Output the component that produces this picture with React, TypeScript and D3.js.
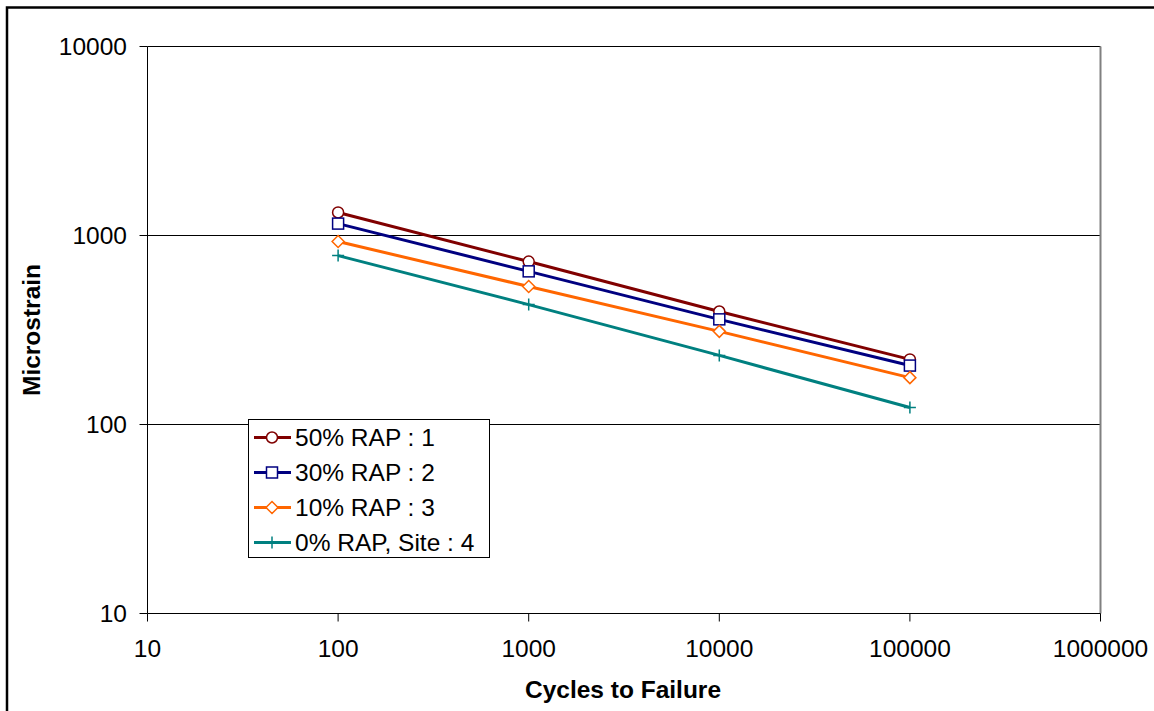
import * as d3 from "d3";

const width = 1154;
const height = 711;

const cycles = [100, 1000, 10000, 100000];
const xTicks = [10, 100, 1000, 10000, 100000, 1000000];
const yTicks = [10, 100, 1000, 10000];

const seriesNames = ["50% RAP : 1", "30% RAP : 2", "10% RAP : 3", "0% RAP, Site : 4"];
const rap50 = [1324, 728, 396, 221];
const rap30 = [1156, 646, 360, 205];
const rap10 = [929, 537, 311, 177];
const rap0 = [783, 431, 232, 123];

const series = [
  { name: seriesNames[0], values: rap50, color: "#800000", marker: "circle" },
  { name: seriesNames[1], values: rap30, color: "#000080", marker: "square" },
  { name: seriesNames[2], values: rap10, color: "#FF6600", marker: "diamond" },
  { name: seriesNames[3], values: rap0, color: "#008080", marker: "plus" },
];

const font = "Arial, 'Liberation Sans', sans-serif";

const Marker = ({ type, x, y, color }: { type: string; x: number; y: number; color: string }) => {
  if (type === "circle")
    return <circle cx={x} cy={y} r={5.5} fill="white" stroke={color} strokeWidth={1.5} />;
  if (type === "square")
    return <rect x={x - 5.5} y={y - 5.5} width={11} height={11} fill="white" stroke={color} strokeWidth={1.5} />;
  if (type === "diamond")
    return (
      <path
        d={`M${x},${y - 6}L${x + 6},${y}L${x},${y + 6}L${x - 6},${y}Z`}
        fill="white"
        stroke={color}
        strokeWidth={1.5}
      />
    );
  return (
    <path d={`M${x - 6},${y}H${x + 6}M${x},${y - 6}V${y + 6}`} fill="none" stroke={color} strokeWidth={1.5} />
  );
};

export default function App() {
  const x = d3.scaleLog().domain([10, 1000000]).range([147.5, 1100.5]);
  const y = d3.scaleLog().domain([10, 10000]).range([613.5, 46.5]);

  const line = d3
    .line<[number, number]>()
    .x((d) => x(d[0]))
    .y((d) => y(d[1]));

  const legendX = 248.5;
  const legendY = 419.5;

  return (
    <svg
      width={width}
      height={height}
      style={{ position: "absolute", left: 0, top: 0, background: "white" }}
      fontFamily={font}
    >
      <rect x={0} y={0} width={width} height={height} fill="white" />
      {/* outer frame */}
      <path d={`M7,${height + 5}V7.5H${width + 5}`} fill="none" stroke="black" strokeWidth={2.5} />

      {/* gridlines */}
      {yTicks.slice(1).map((t) => (
        <line key={t} x1={x(10)} x2={x(1000000)} y1={y(t)} y2={y(t)} stroke="black" strokeWidth={1} />
      ))}
      {/* plot area right border */}
      <line x1={x(1000000)} x2={x(1000000)} y1={y(10000)} y2={y(10)} stroke="#808080" strokeWidth={2} />

      {/* y axis */}
      <line x1={x(10)} x2={x(10)} y1={y(10000)} y2={y(10)} stroke="black" strokeWidth={1} />
      {yTicks.map((t) => (
        <g key={t}>
          <line x1={x(10) - 8} x2={x(10)} y1={y(t)} y2={y(t)} stroke="black" strokeWidth={1} />
          <text x={127} y={y(t)} dy="0.35em" textAnchor="end" fontSize={24.5} fill="black">
            {t}
          </text>
        </g>
      ))}

      {/* x axis */}
      <line x1={x(10)} x2={x(1000000)} y1={y(10)} y2={y(10)} stroke="black" strokeWidth={1} />
      {xTicks.map((t) => (
        <g key={t}>
          <line x1={x(t)} x2={x(t)} y1={y(10)} y2={y(10) + 8} stroke="black" strokeWidth={1} />
          <text x={x(t)} y={657} textAnchor="middle" fontSize={24.5} fill="black">
            {t}
          </text>
        </g>
      ))}

      {/* axis titles */}
      <text x={623} y={698} textAnchor="middle" fontSize={24.5} fontWeight="bold">
        Cycles to Failure
      </text>
      <text
        transform={`translate(40,${(y(10000) + y(10)) / 2}) rotate(-90)`}
        textAnchor="middle"
        fontSize={24.5}
        fontWeight="bold"
      >
        Microstrain
      </text>

      {/* series */}
      {series.map((s) => {
        const pts = cycles.map((c, i) => [c, s.values[i]] as [number, number]);
        return (
          <g key={s.name}>
            <path d={line(pts) ?? ""} fill="none" stroke={s.color} strokeWidth={3} />
            {pts.map((p) => (
              <Marker key={p[0]} type={s.marker} x={x(p[0])} y={y(p[1])} color={s.color} />
            ))}
          </g>
        );
      })}

      {/* legend */}
      <rect x={legendX} y={legendY} width={241} height={138} fill="white" stroke="black" strokeWidth={1} />
      {series.map((s, i) => {
        const cy = legendY + 18 + i * 35;
        return (
          <g key={s.name}>
            <line x1={254} x2={291} y1={cy} y2={cy} stroke={s.color} strokeWidth={3} />
            <Marker type={s.marker} x={272} y={cy} color={s.color} />
            <text x={295} y={cy} dy="0.35em" fontSize={24.5} fill="black">
              {s.name}
            </text>
          </g>
        );
      })}
    </svg>
  );
}
